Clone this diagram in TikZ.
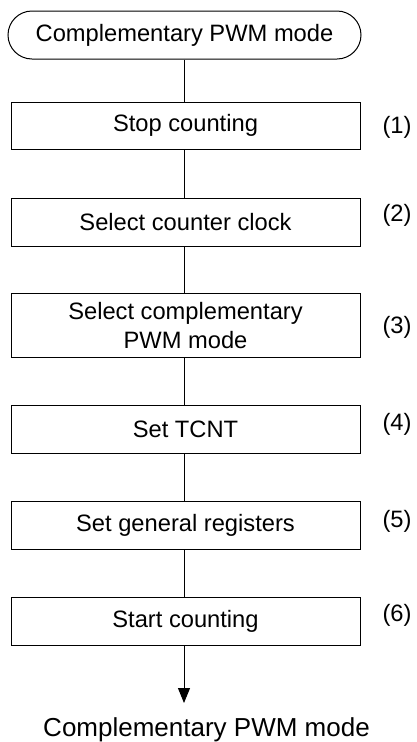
\documentclass[tikz,border=0pt]{standalone}
\usepackage{fontspec}
\setmainfont{Liberation Sans}
\usetikzlibrary{arrows.meta}
\begin{document}
\begin{tikzpicture}[x=1pt,y=-1pt,
  stepbox/.style={draw,line width=1pt,minimum width=349pt,inner sep=0pt,align=center,font=\fontsize{23.7}{28.5}\selectfont},
  term/.style={draw,line width=1pt,rounded corners=24pt,minimum width=353pt,minimum height=48pt,inner sep=0pt,font=\fontsize{23.7}{28.5}\selectfont},
  lbl/.style={font=\fontsize{23.7}{28.5}\selectfont,inner sep=0pt},
  conn/.style={line width=1pt}]
\useasboundingbox (0,0) rectangle (416,742);
\node[term] (t) at (184.5,35) {Complementary PWM mode};
\node[stepbox,minimum height=47pt] (b1) at (185.5,125.5) {Stop counting};
\node[stepbox,minimum height=48pt] (b2) at (185.5,222) {Select counter clock};
\node[stepbox,minimum height=64pt] (b3) at (185.5,325.3) {Select complementary\\PWM mode};
\node[stepbox,minimum height=48pt] (b4) at (185.5,429.3) {Set TCNT};
\node[stepbox,minimum height=48pt] (b5) at (185.5,525.7) {Set general registers};
\node[stepbox,minimum height=48pt] (b6) at (185.5,621.7) {Start counting};
\node[lbl] (l1) at (397,127) {(1)};
\node[lbl] (l2) at (397,215) {(2)};
\node[lbl] (l3) at (397,327) {(3)};
\node[lbl] (l4) at (397,424) {(4)};
\node[lbl] (l5) at (397,521) {(5)};
\node[lbl] (l6) at (397,615) {(6)};
\coordinate (tip) at (184,703);
\node[font=\fontsize{26}{31}\selectfont,inner sep=0pt] (end) at (206.5,730) {Complementary PWM mode};
\draw[conn] (t.south -| tip) -- (b1.north -| tip);
\draw[conn] (b1.south -| tip) -- (b2.north -| tip);
\draw[conn] (b2.south -| tip) -- (b3.north -| tip);
\draw[conn] (b3.south -| tip) -- (b4.north -| tip);
\draw[conn] (b4.south -| tip) -- (b5.north -| tip);
\draw[conn] (b5.south -| tip) -- (b6.north -| tip);
\draw[conn,-{Triangle[length=15pt,width=12pt]}] (b6.south -| tip) -- (tip);
\end{tikzpicture}
\end{document}
